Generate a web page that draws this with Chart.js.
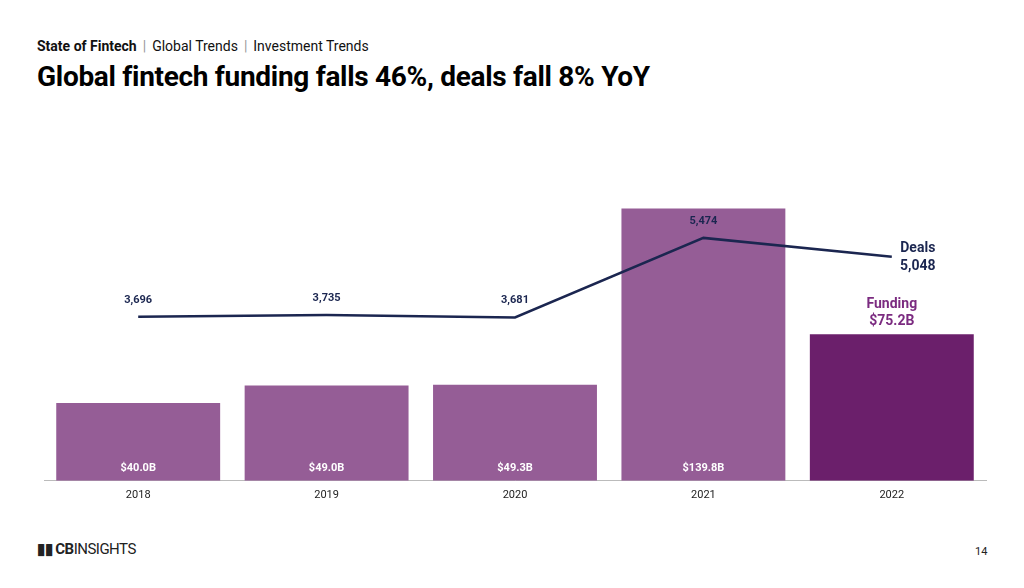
<!DOCTYPE html>
<html>
<head>
<meta charset="utf-8">
<script src="https://cdn.jsdelivr.net/npm/chart.js@4"></script>
<style>
  body { margin: 0; width: 1024px; height: 588px; background: #fff; font-family: Roboto, sans-serif; position: relative; overflow: hidden; }
  #crumbs { position: absolute; left: 37px; top: 38px; font-size: 14px; color: #111; }
  #crumbs b { font-weight: 700; }
  #crumbs .sep { color: #999; margin: 0 6px; }
  #title { position: absolute; left: 37px; top: 60px; font-size: 28px; font-weight: 700; color: #000; letter-spacing: -0.3px; }
  #wrap { position: absolute; left: 30px; top: 140px; width: 966px; height: 370px; }
  #logo { position: absolute; left: 37px; top: 540px; font-size: 15px; font-weight: 700; color: #222; letter-spacing: -0.5px; }
  #logo span { font-weight: 400; }
  #page { position: absolute; left: 975px; top: 545px; font-size: 11px; color: #222; }
</style>
</head>
<body>
<div id="crumbs"><b>State of Fintech</b><span class="sep">|</span>Global Trends<span class="sep">|</span>Investment Trends</div>
<div id="title">Global fintech funding falls 46%, deals fall 8% YoY</div>
<div id="wrap"><canvas id="chart"></canvas></div>
<div id="logo">&#9646;&#9646; CB<span>INSIGHTS</span></div>
<div id="page">14</div>
<script>
const years = ['2018', '2019', '2020', '2021', '2022'];
const funding = [40.0, 49.0, 49.3, 139.8, 75.2];
const deals = [3696, 3735, 3681, 5474, 5048];
const fundingLabels = ['$40.0B', '$49.0B', '$49.3B', '$139.8B', '$75.2B'];
const dealLabels = ['3,696', '3,735', '3,681', '5,474', '5,048'];

const labelPlugin = {
  id: 'labels',
  afterDatasetsDraw(chart) {
    const ctx = chart.ctx;
    const bars = chart.getDatasetMeta(0).data;
    const pts = chart.getDatasetMeta(1).data;
    ctx.save();
    ctx.textAlign = 'center';
    ctx.font = 'bold 11px Roboto';
    ctx.fillStyle = '#fff';
    for (let i = 0; i < bars.length - 1; i++) {
      ctx.fillText(fundingLabels[i], bars[i].x, chart.chartArea.bottom - 10);
    }
    ctx.fillStyle = '#1b2650';
    for (let i = 0; i < pts.length - 1; i++) {
      ctx.fillText(dealLabels[i], pts[i].x, pts[i].y - 14);
    }
    const last = pts.length - 1;
    ctx.font = 'bold 14px Roboto';
    ctx.fillText('Deals', pts[last].x + 26, pts[last].y - 5);
    ctx.fillText(dealLabels[last], pts[last].x + 26, pts[last].y + 13);
    ctx.fillStyle = '#7b2b80';
    ctx.fillText('Funding', bars[last].x, bars[last].y - 26);
    ctx.fillText(fundingLabels[last], bars[last].x, bars[last].y - 9);
    ctx.restore();
  }
};

new Chart(document.getElementById('chart'), {
  data: {
    labels: years,
    datasets: [{
      type: 'bar',
      data: funding,
      backgroundColor: ['#955d96', '#955d96', '#955d96', '#955d96', '#6b1f6b'],
      barPercentage: 0.87,
      categoryPercentage: 1,
      yAxisID: 'y',
      order: 2
    }, {
      type: 'line',
      data: deals,
      borderColor: '#1b2650',
      borderWidth: 2.5,
      pointRadius: 0,
      tension: 0,
      yAxisID: 'y2',
      order: 1
    }]
  },
  options: {
    responsive: true,
    maintainAspectRatio: false,
    animation: false,
    layout: { padding: { left: 14, right: 10 } },
    plugins: { legend: { display: false }, tooltip: { enabled: false } },
    scales: {
      x: {
        grid: { display: false, drawTicks: false },
        border: { color: '#bbb' },
        ticks: { color: '#222', font: { family: 'Roboto', size: 11 }, padding: 8 }
      },
      y: { display: false, min: 0, max: 175 },
      y2: { display: false, min: 0, max: 7680 }
    }
  },
  plugins: [labelPlugin]
});
</script>
</body>
</html>
